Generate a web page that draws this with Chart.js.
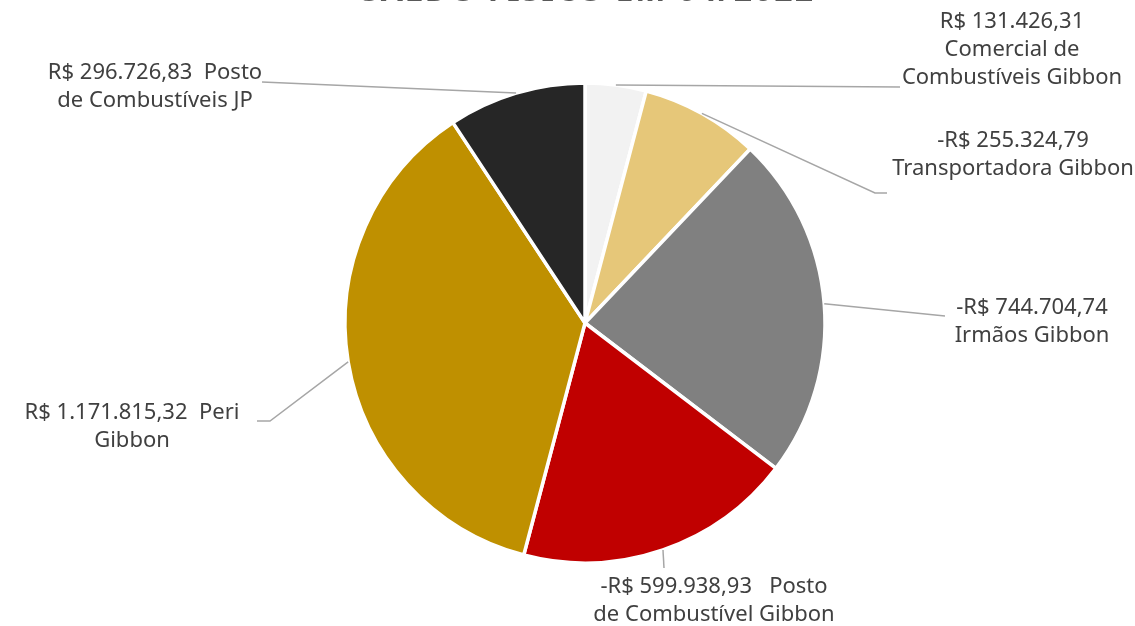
<!DOCTYPE html>
<html>
<head>
<meta charset="utf-8">
<script src="https://cdn.jsdelivr.net/npm/chart.js@4.4.1/dist/chart.umd.min.js"></script>
<style>
  html, body { margin: 0; padding: 0; background: #ffffff; overflow: hidden; }
  #wrap { width: 1135px; height: 626px; position: relative; }
</style>
</head>
<body>
<div id="wrap"><canvas id="saldoChart" width="1135" height="626"></canvas></div>
<script>
// dados do gráfico
const titleText = 'SALDO FÍSICO EM 04/2022';
const categories = [
    'Comercial de Combustíveis Gibbon',
    'Transportadora Gibbon',
    'Irmãos Gibbon',
    'Posto de Combustível Gibbon',
    'Peri Gibbon',
    'Posto de Combustíveis JP'
];
const saldos = [131426.31, -255324.79, -744704.74, -599938.93, 1171815.32, 296726.83];
// quebra de linha dos rótulos ({v} = valor)
const labelWrap = [
    '{v}\nComercial de\nCombustíveis Gibbon',
    '{v}\nTransportadora Gibbon',
    '{v}\nIrmãos Gibbon',
    '{v}   Posto\nde Combustível Gibbon',
    '{v}  Peri\nGibbon',
    '{v}  Posto\nde Combustíveis JP'
];
const sliceColors = ['#f2f2f2', '#e6c779', '#808080', '#c00000', '#bf9000', '#262626'];

// posição dos rótulos e cotovelos das linhas de chamada
const labelLayout = [
    { x: 1012, y: 22, pts: [[900, 87]] },
    { x: 1013, y: 141, pts: [[875, 193], [887, 193]] },
    { x: 1032, y: 308, pts: [[945, 316]] },
    { x: 714, y: 587, pts: [[664, 568]] },
    { x: 132, y: 413, pts: [[270, 421], [257, 421]] },
    { x: 155, y: 73, pts: [[262, 82]] }
];

function formatBRL(v) {
    const abs = Math.abs(v).toFixed(2).split('.');
    const inteiro = abs[0].replace(/\B(?=(\d{3})+(?!\d))/g, '.');
    return (v < 0 ? '-' : '') + 'R$ ' + inteiro + ',' + abs[1];
}

const labelFont = '22px "Noto Sans", "Open Sans", sans-serif';
const lineHeight = 28;

/**
 * Título e rótulos com linhas de chamada
 */
const calloutPlugin = {
    id: 'callouts',
    afterDatasetsDraw(chart) {
        const ctx = chart.ctx;
        const meta = chart.getDatasetMeta(0);

        ctx.save();
        // título (cortado no topo, como na referência)
        ctx.font = 'bold 32px "Noto Sans", sans-serif';
        ctx.fillStyle = '#595959';
        ctx.textAlign = 'center';
        ctx.textBaseline = 'alphabetic';
        ctx.letterSpacing = '2px';
        ctx.fillText(titleText, 588, 1);
        ctx.letterSpacing = '0px';

        meta.data.forEach((arc, i) => {
            const p = arc.getProps(['x', 'y', 'startAngle', 'endAngle', 'outerRadius'], true);
            const mid = (p.startAngle + p.endAngle) / 2;
            const sx = p.x + Math.cos(mid) * p.outerRadius;
            const sy = p.y + Math.sin(mid) * p.outerRadius;
            const lay = labelLayout[i];

            ctx.beginPath();
            ctx.moveTo(sx, sy);
            lay.pts.forEach(pt => ctx.lineTo(pt[0], pt[1]));
            ctx.strokeStyle = '#a6a6a6';
            ctx.lineWidth = 1.5;
            ctx.stroke();

            const lines = labelWrap[i].replace('{v}', formatBRL(saldos[i])).split('\n');
            ctx.font = labelFont;
            ctx.fillStyle = '#404040';
            ctx.textAlign = 'center';
            ctx.textBaseline = 'middle';
            lines.forEach((ln, k) => ctx.fillText(ln, lay.x, lay.y + k * lineHeight));
        });
        ctx.restore();
    }
};

const chart = new Chart(document.getElementById('saldoChart'), {
    type: 'pie',
    data: {
        labels: categories,
        datasets: [{
            data: saldos.map(v => Math.abs(v)),
            backgroundColor: sliceColors,
            borderColor: '#ffffff',
            borderWidth: 3.5,
            hoverOffset: 0
        }]
    },
    options: {
        responsive: false,
        animation: false,
        devicePixelRatio: 1,
        radius: 240,
        layout: {
            padding: { top: 83, bottom: 63, left: 35, right: 0 }
        },
        plugins: {
            legend: { display: false },
            title: { display: false },
            tooltip: { enabled: false }
        }
    },
    plugins: [calloutPlugin]
});
</script>
</body>
</html>
